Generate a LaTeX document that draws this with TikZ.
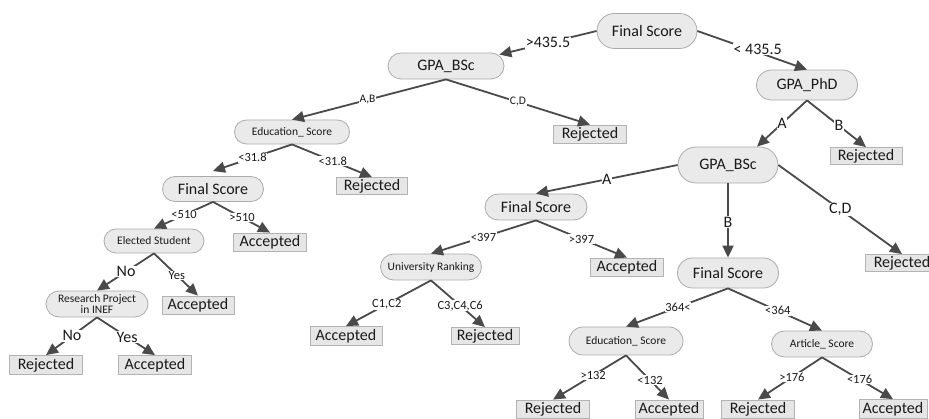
\documentclass[tikz,border=0pt]{standalone}
\usepackage{fontspec}
\setmainfont{Carlito}
\usetikzlibrary{arrows.meta}
\definecolor{nodefill}{HTML}{EAEAEA}
\definecolor{nodeline}{HTML}{ABABAB}
\definecolor{leaffill}{HTML}{E6E6E6}
\definecolor{leafline}{HTML}{B3B3B3}
\definecolor{edgecol}{HTML}{4A4A4A}
\definecolor{txt}{HTML}{1A1A1A}
\tikzset{
  decision/.style={draw=nodeline, fill=nodefill, line width=0.8pt, inner sep=0pt,
    text=txt, align=center},
  pill/.style 2 args={minimum width=#1pt, minimum height=#2pt, rounded corners=0.5*#2pt},
  bigtext/.style={font=\fontsize{16}{18}\selectfont},
  smalltext/.style={font=\fontsize{11.5}{13}\selectfont},
  leaf/.style={draw=leafline, fill=leaffill, line width=0.8pt, inner sep=0pt,
    text=txt, font=\fontsize{16}{18}\selectfont},
  leafsize/.style 2 args={minimum width=#1pt, minimum height=#2pt},
  edge/.style={draw=edgecol, line width=1.8pt,
    -{Triangle[length=12pt,width=11pt]}},
  lab/.style={fill=white, inner sep=0.6pt, text=txt},
  labbig/.style={lab, font=\fontsize{16}{18}\selectfont},
  labmid/.style={lab, font=\fontsize{12.5}{14}\selectfont},
  labsmall/.style={lab, font=\fontsize{11.5}{13}\selectfont},
}
\begin{document}
\begin{tikzpicture}[x=1pt,y=-1pt]
\useasboundingbox (0,0) rectangle (929,419);

% decision nodes
\node[decision, bigtext, pill={100}{35}] (fs0)  at (647,31)  {Final Score};
\node[decision, bigtext, pill={116}{26}] (gpa1) at (446,66)  {GPA\_BSc};
\node[decision, bigtext, pill={101}{30}] (phd)  at (807,85)  {GPA\_PhD};
\node[decision, bigtext, pill={100}{36}] (gpa2) at (728,165) {GPA\_BSc};
\node[decision, smalltext, pill={115}{24}] (edu1) at (292,132) {Education\_ Score};
\node[decision, bigtext, pill={101}{25}] (fs1)  at (213,189) {Final Score};
\node[decision, smalltext, pill={100}{24}] (elec) at (154,241) {Elected Student};
\node[decision, smalltext, pill={102}{26}] (res)  at (97,304)
  {Research Project\\[-2pt]in INEF};
\node[decision, bigtext, pill={102}{26}] (fs2)  at (536,207) {Final Score};
\node[decision, smalltext, pill={101}{26}] (uni)  at (431,267) {University Ranking};
\node[decision, bigtext, pill={101}{30}] (fs3)  at (728,273) {Final Score};
\node[decision, smalltext, pill={114}{28}] (edu2) at (626,341) {Education\_ Score};
\node[decision, smalltext, pill={101}{26}] (art)  at (822,344) {Article\_ Score};

% leaf nodes
\node[leaf, leafsize={73}{18}] (rej1) at (590,134) {Rejected};
\node[leaf, leafsize={72}{17}] (rej2) at (866,156) {Rejected};
\node[leaf, leafsize={73}{17}] (rej3) at (902,263) {Rejected};
\node[leaf, leafsize={71}{17}] (rej4) at (372,186) {Rejected};
\node[leaf, leafsize={73}{18}] (acc1) at (270,242) {Accepted};
\node[leaf, leafsize={72}{18}] (acc2) at (198,305) {Accepted};
\node[leaf, leafsize={73}{19}] (rej5) at (46,365)  {Rejected};
\node[leaf, leafsize={73}{19}] (acc3) at (155,365) {Accepted};
\node[leaf, leafsize={73}{18}] (acc4) at (627,267) {Accepted};
\node[leaf, leafsize={72}{19}] (acc5) at (346,336) {Accepted};
\node[leaf, leafsize={68}{17}] (rej6) at (485,336) {Rejected};
\node[leaf, leafsize={73}{18}] (rej7) at (553,409) {Rejected};
\node[leaf, leafsize={68}{18}] (acc6) at (669,409) {Accepted};
\node[leaf, leafsize={73}{18}] (rej8) at (758,409) {Rejected};
\node[leaf, leafsize={68}{19}] (acc7) at (893,409) {Accepted};

% connectors
\draw[edge] (fs0.west) -- node[labbig, pos=0.5] {>435.5}
  ([xshift=-5pt,yshift=-2pt]gpa1.north east);
\draw[edge] (fs0.east) -- node[labbig, pos=0.55, yshift=3pt] {< 435.5} (phd.north);

\draw[edge] (gpa1.south) -- node[labsmall, pos=0.51] {A,B} (edu1.north);
\draw[edge] (gpa1.south) -- node[labsmall, pos=0.5] {C,D} (rej1.north);

\draw[edge] (phd.south) -- node[labbig, pos=0.5] {A} ([xshift=29pt]gpa2.north);
\draw[edge] (phd.south) -- node[labbig, pos=0.54] {B} (rej2.north);

\draw[edge] (gpa2.west) -- node[labbig, pos=0.5] {A} (fs2.north);
\draw[edge] (gpa2.south) -- node[labbig, pos=0.52] {B} (fs3.north);
\draw[edge] (gpa2.east) -- node[labbig, pos=0.5] {C,D} (rej3.north);

\draw[edge] (edu1.south) -- node[labmid, pos=0.5] {<31.8} ([yshift=5pt]fs1.north);
\draw[edge] (edu1.south) -- node[labmid, pos=0.51] {<31.8} (rej4.north);

\draw[edge] (fs1.south) -- node[labmid, pos=0.49] {<510} (elec.north);
\draw[edge] (fs1.south) -- node[labmid, pos=0.51] {>510} (acc1.north);

\draw[edge] (elec.south) -- node[labbig, pos=0.49] {No} (res.north);
\draw[edge] (elec.south) -- node[labmid, pos=0.52] {Yes} (acc2.north);

\draw[edge] (res.south) -- node[labbig, pos=0.49] {No} (rej5.north);
\draw[edge] (res.south) -- node[labbig, pos=0.52] {Yes} (acc3.north);

\draw[edge] (fs2.south) -- node[labmid, pos=0.5] {<397} (uni.north);
\draw[edge] (fs2.south) -- node[labmid, pos=0.5] {>397} (acc4.north);

\draw[edge] (uni.south) -- node[labmid, pos=0.52] {C1,C2} (acc5.north);
\draw[edge] (uni.south) -- node[labmid, pos=0.54] {C3,C4,C6} (rej6.north);

\draw[edge] (fs3.south) -- node[labmid, pos=0.49] {364<} (edu2.north);
\draw[edge] (fs3.south) -- node[labmid, pos=0.53] {<364} (art.north);

\draw[edge] (edu2.south) -- node[labmid, pos=0.45] {>132} (rej7.north);
\draw[edge] (edu2.south) -- node[labmid, pos=0.56] {<132} (acc6.north);

\draw[edge] (art.south) -- node[labmid, pos=0.47] {>176} (rej8.north);
\draw[edge] (art.south) -- node[labmid, pos=0.53] {<176} (acc7.north);
\end{tikzpicture}
\end{document}
